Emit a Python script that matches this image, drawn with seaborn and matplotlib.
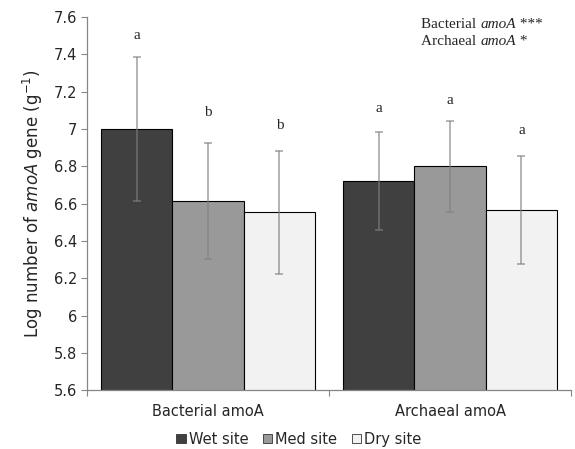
import numpy as np
import pandas as pd
import seaborn as sns
import matplotlib.pyplot as plt
from matplotlib.ticker import FixedLocator
from matplotlib.patches import Patch

# data
genes = ["Bacterial amoA", "Archaeal amoA"]
sites = ["Wet site", "Med site", "Dry site"]
wet = [7.00, 6.72]
med = [6.615, 6.80]
dry = [6.555, 6.567]
wet_err = [0.387, 0.262]
med_err = [0.313, 0.244]
dry_err = [0.33, 0.29]
letters = [["a", "a"], ["b", "a"], ["b", "a"]]
letter_y = [[7.50, 7.11], [7.09, 7.155], [7.02, 6.99]]

colors = ["#404040", "#999999", "#f2f2f2"]

rows = []
for site, vals in zip(sites, [wet, med, dry]):
    for g, v in zip(genes, vals):
        rows.append({"gene": g, "site": site, "value": v})
df = pd.DataFrame(rows)

sns.set_style("white")
plt.rcParams["font.family"] = ["DejaVu Sans"]
plt.rcParams["mathtext.fontset"] = "dejavusans"

fig = plt.figure(figsize=(5.75, 4.49), dpi=100)
ax = fig.add_axes([0.1513, 0.1303, 0.842, 0.8318])

sns.barplot(data=df, x="gene", y="value", hue="site", order=genes,
            hue_order=sites, palette=colors, edgecolor="black",
            linewidth=0.8, width=0.884, gap=0, errorbar=None,
            legend=False, ax=ax)

errs = [wet_err, med_err, dry_err]
bar_groups = list(ax.containers)
for i, cont in enumerate(bar_groups):
    for j, bar in enumerate(cont):
        xc = bar.get_x() + bar.get_width() / 2
        top = bar.get_y() + bar.get_height()
        ax.errorbar(xc, top, yerr=errs[i][j], color="#7f7f7f", alpha=0.75,
                    elinewidth=1.1, capsize=3, capthick=1.1)
        ax.text(xc, letter_y[i][j], letters[i][j], ha="center",
                va="center", fontsize=11, family="Liberation Serif")

ticks = np.arange(5.6, 7.61, 0.2)
ax.set_ylim(5.6, 7.6)
ax.set_xlim(-0.5, 1.5)
ax.set_yticks(ticks)
ax.set_yticklabels(["%g" % round(t, 1) for t in ticks])
ax.tick_params(axis="y", direction="out", length=4, width=0.8,
               color="#868686", labelsize=10.5, left=True, pad=3)
ax.tick_params(axis="x", which="major", length=0, labelsize=10.5, pad=10)
ax.xaxis.set_minor_locator(FixedLocator([-0.5, 0.5, 1.5]))
ax.tick_params(axis="x", which="minor", direction="out", length=4,
               width=0.8, color="#868686", bottom=True)
ax.set_xlabel("")
ax.set_ylabel(r"Log number of $\it{amoA}$ gene (g$^{-1}$)", fontsize=12,
              labelpad=6)

sns.despine(ax=ax)
for s in ["left", "bottom"]:
    ax.spines[s].set_color("#868686")
    ax.spines[s].set_linewidth(0.9)

# significance note, top right
for k, (name, stars) in enumerate([("Bacterial ", "***"), ("Archaeal ", "*")]):
    t1 = fig.text(0.733, 0.937 - k * 0.038, name, fontsize=11,
                  family="Liberation Serif", va="baseline")
    t2 = ax.annotate("amoA", xy=(1, 0), xycoords=t1, va="bottom",
                     fontsize=11, family="Liberation Serif", style="italic")
    ax.annotate(" " + stars, xy=(1, 0), xycoords=t2, va="bottom",
                fontsize=11, family="Liberation Serif")

handles = [Patch(facecolor=c, edgecolor="#333333", linewidth=0.6) for c in colors]
fig.legend(handles, sites, loc="center", bbox_to_anchor=(0.52, 0.022),
           ncol=3, frameon=False, fontsize=10.5, handlelength=0.65,
           handleheight=0.65, handletextpad=0.2, columnspacing=1.0)

fig.savefig("out.png", dpi=100)
